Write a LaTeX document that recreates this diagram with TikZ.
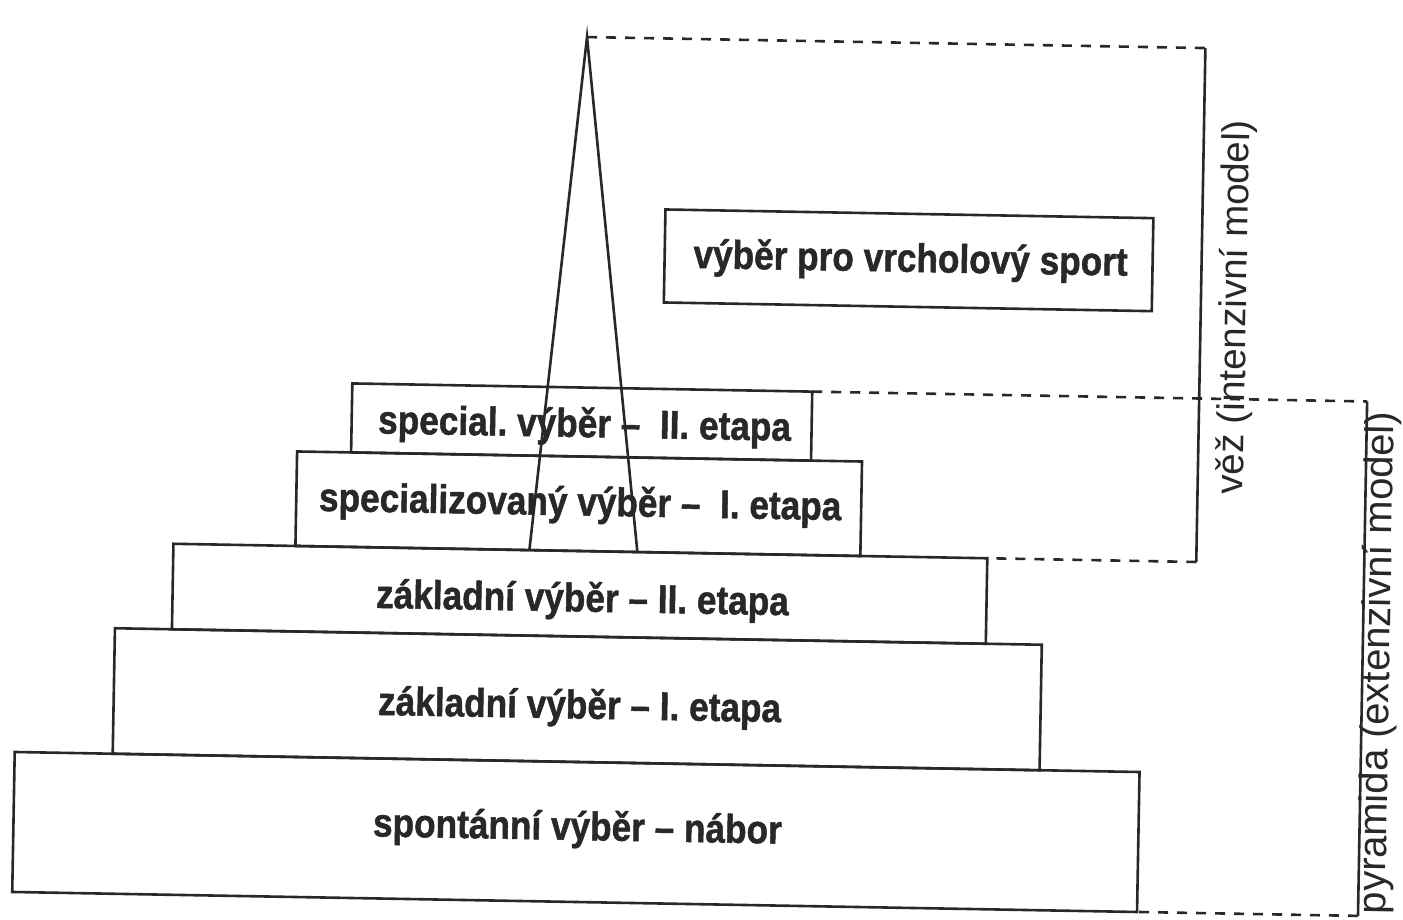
\documentclass[tikz,border=0pt]{standalone}
\usepackage{fontspec}
\setmainfont{Liberation Sans}
\newfontfamily\boxfont[FakeBold=1.3]{Liberation Sans Bold}
\usepackage{graphicx}
\definecolor{ink}{RGB}{40,40,40}
\newcommand{\cond}[1]{\scalebox{0.88}[1]{#1}}
\frenchspacing
\begin{document}
\begin{tikzpicture}[x=1pt,y=-1pt,
  box/.style={draw=ink, line width=2.6pt, inner sep=0pt, outer sep=0pt},
  lbl/.style={inner sep=0pt, text=ink, font=\fontsize{40}{44}\selectfont\boxfont, anchor=base},
  side/.style={inner sep=0pt, text=ink, rotate=90, anchor=base west},
  edge/.style={draw=ink, line width=2.6pt},
  dashline/.style={draw=ink, line width=2.6pt, dash pattern=on 10pt off 9pt}]
\useasboundingbox (0,0) rectangle (1403,920);
\clip (0,0) rectangle (1403,920);
\fill[white] (0,0) rectangle (1403,920);
\begin{scope}[rotate around={-1.02:(580,460)}, transform shape]
  % boxes
  \node[box, minimum width=1125pt, minimum height=140pt]   (b1) at (582.5,832) {};
  \node[box, minimum width=927pt,  minimum height=125.5pt] (b2) at (581.5,699.25) {};
  \node[box, minimum width=814pt,  minimum height=85.5pt]  (b3) at (582,593.75) {};
  \node[box, minimum width=565pt,  minimum height=94.5pt]  (b4) at (579.5,503.75) {};
  \node[box, minimum width=460pt,  minimum height=69pt]    (b5) at (581,422) {};
  \node[box, minimum width=488pt,  minimum height=93pt]    (b6) at (905,254.5) {};
  % texts
  \node[lbl] (t1) at (584,840) {\cond{spontánní výběr – nábor}};
  \node[lbl] (t2) at (584,718.5) {\cond{základní výběr – I. etapa}};
  \node[lbl] (t3) at (585,611.5) {\cond{základní výběr – II. etapa}};
  \node[lbl] (t4) at (581,515.5) {\cond{specializovaný výběr –~ I. etapa}};
  \node[lbl] (t5) at (584,437) {\cond{special. výběr –~ II. etapa}};
  \node[lbl] (t6) at (907,266) {\cond{výběr pro vrcholový sport}};
  % side labels
  \node[side, font=\fontsize{38.5}{40}\selectfont] (vez) at (1243.5,483) {věž (intenzivní model)};
  \node[side, font=\fontsize{40}{42}\selectfont] (pyr) at (1393,900) {pyramida (extenzivní model)};
  % coordinates
  \coordinate (apex) at (579.5,37);
  \coordinate (sl) at (531,551);
  \coordinate (sr) at (639,551);
  \coordinate (v1a) at (1198,37);
  \coordinate (v1b) at (1198,551);
  \coordinate (p1a) at (1366,387.5);
  \coordinate (p1b) at (1366,902);
  % brackets
  \draw[dashline] (apex) -- (v1a);
  \draw[edge] (v1a) -- (v1b);
  \draw[dashline] (v1b) -- (b3.north east);
  \draw[dashline] (b5.north east) -- (p1a);
  \draw[edge] (p1a) -- (p1b);
  \draw[dashline] (p1b) -- (b1.south east);
  % spire
  \draw[edge, line join=miter] (sl) -- (apex) -- (sr);
\end{scope}
\end{tikzpicture}
\end{document}
